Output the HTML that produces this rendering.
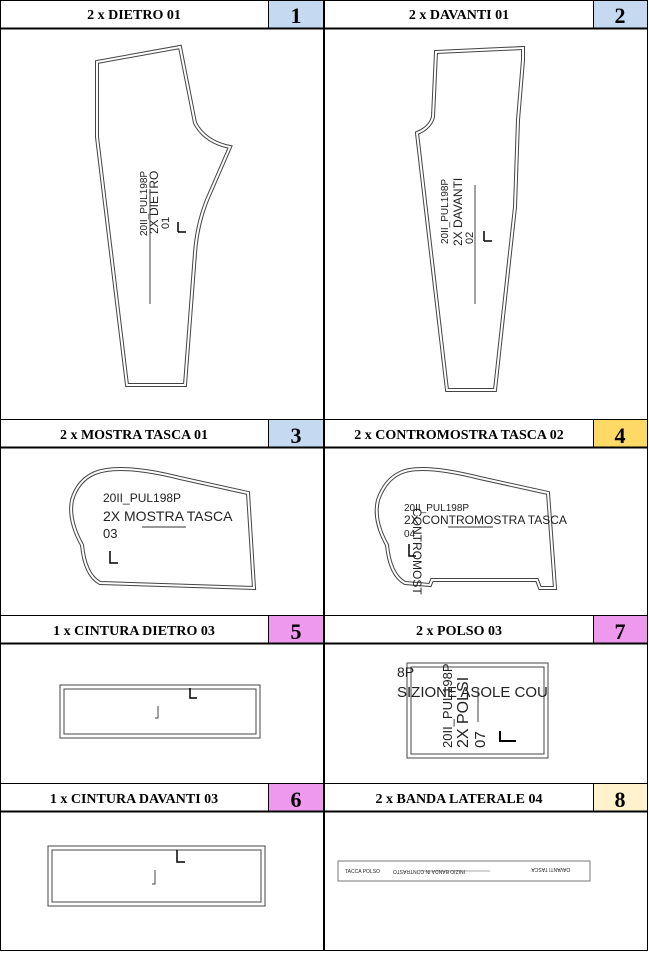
<!DOCTYPE html>
<html><head><meta charset="utf-8"><style>
html,body{margin:0;padding:0;background:#fff}
svg{display:block}
.h{font-family:"Liberation Serif",serif;font-weight:bold;font-size:14px;text-anchor:middle}
.n{font-family:"Liberation Serif",serif;font-weight:bold;font-size:22px;text-anchor:middle}
.t{font-family:"Liberation Sans",sans-serif;fill:#222}
.o{fill:none;stroke:#444;stroke-width:4}
.i{fill:none;stroke:#fff;stroke-width:2}
</style></head><body>
<svg width="649" height="953" viewBox="0 0 649 953">
<rect width="649" height="953" fill="#fff"/>
<g>
<rect x="269" y="1" width="54" height="27" fill="#c5d9f1"/>
<rect x="594" y="1" width="53" height="27" fill="#c5d9f1"/>
<rect x="269" y="420" width="54" height="27" fill="#c5d9f1"/>
<rect x="594" y="420" width="53" height="27" fill="#ffd966"/>
<rect x="269" y="616" width="54" height="27" fill="#ee99ee"/>
<rect x="594" y="616" width="53" height="27" fill="#ee99ee"/>
<rect x="269" y="784" width="54" height="27" fill="#ee99ee"/>
<rect x="594" y="784" width="53" height="27" fill="#fff2cc"/>
</g>
<g stroke="#000">
<rect x="0.5" y="0.5" width="647" height="950" fill="none" stroke-width="1"/>
<line x1="324" y1="0" x2="324" y2="951" stroke-width="2"/>
<line x1="0" y1="28.5" x2="648" y2="28.5" stroke-width="2"/>
<line x1="0" y1="419.5" x2="648" y2="419.5" stroke-width="1"/>
<line x1="0" y1="447.5" x2="648" y2="447.5" stroke-width="2"/>
<line x1="0" y1="615.5" x2="648" y2="615.5" stroke-width="1"/>
<line x1="0" y1="643.5" x2="648" y2="643.5" stroke-width="2"/>
<line x1="0" y1="783.5" x2="648" y2="783.5" stroke-width="1"/>
<line x1="0" y1="811.5" x2="648" y2="811.5" stroke-width="2"/>
<line x1="268.5" y1="0" x2="268.5" y2="28" stroke-width="1"/>
<line x1="593.5" y1="0" x2="593.5" y2="28" stroke-width="1"/>
<line x1="268.5" y1="419" x2="268.5" y2="447" stroke-width="1"/>
<line x1="593.5" y1="419" x2="593.5" y2="447" stroke-width="1"/>
<line x1="268.5" y1="615" x2="268.5" y2="643" stroke-width="1"/>
<line x1="593.5" y1="615" x2="593.5" y2="643" stroke-width="1"/>
<line x1="268.5" y1="783" x2="268.5" y2="811" stroke-width="1"/>
<line x1="593.5" y1="783" x2="593.5" y2="811" stroke-width="1"/>
</g>
<g>
<text class="h" x="134" y="19">2 x DIETRO 01</text>
<text class="n" x="296" y="23">1</text>
<text class="h" x="459" y="19">2 x DAVANTI 01</text>
<text class="n" x="620" y="23">2</text>
<text class="h" x="134" y="439">2 x MOSTRA TASCA 01</text>
<text class="n" x="296" y="443">3</text>
<text class="h" x="459" y="439">2 x CONTROMOSTRA TASCA 02</text>
<text class="n" x="620" y="443">4</text>
<text class="h" x="134" y="635">1 x CINTURA DIETRO 03</text>
<text class="n" x="296" y="639">5</text>
<text class="h" x="459" y="635">2 x POLSO 03</text>
<text class="n" x="620" y="639">7</text>
<text class="h" x="134" y="803">1 x CINTURA DAVANTI 03</text>
<text class="n" x="296" y="807">6</text>
<text class="h" x="459" y="803">2 x BANDA LATERALE 04</text>
<text class="n" x="620" y="807">8</text>
</g>
<g>
<path d="M97,62 L180,47 L195,123 Q205,142 230,147 L207,200 Q197,225 195,253 L185,385 L127,385 L97,137 Z" class="o"/>
<path d="M97,62 L180,47 L195,123 Q205,142 230,147 L207,200 Q197,225 195,253 L185,385 L127,385 L97,137 Z" class="i"/>
<line x1="150" y1="190" x2="150" y2="304" stroke="#444"/>
<text class="t" font-size="10" transform="translate(147,236) rotate(-90)">20II_PUL198P</text>
<text class="t" font-size="12" transform="translate(158,234) rotate(-90)">2X DIETRO</text>
<text class="t" font-size="11" transform="translate(169,229) rotate(-90)">01</text>
<path d="M178,232 H186 M178,232 V222" stroke="#000" stroke-width="1.5" fill="none"/>
</g>
<g>
<path d="M436,52 L523,48 L523,60 L518,120 L515,207 L495,390 L447,390 L417,133 Q430,128 433,117 Z" class="o"/>
<path d="M436,52 L523,48 L523,60 L518,120 L515,207 L495,390 L447,390 L417,133 Q430,128 433,117 Z" class="i"/>
<line x1="475" y1="185" x2="475" y2="304" stroke="#444"/>
<text class="t" font-size="10" transform="translate(448,244) rotate(-90)">20II_PUL198P</text>
<text class="t" font-size="12" transform="translate(462,246) rotate(-90)">2X DAVANTI</text>
<text class="t" font-size="11" transform="translate(473,244) rotate(-90)">02</text>
<path d="M484,241 H492 M484,241 V231" stroke="#000" stroke-width="1.5" fill="none"/>
</g>
<g>
<path d="M95,473 Q120,463 180,478 L248,493 L254,588 L100,583 Q85,575 82,545 Q68,520 72,500 Q78,480 95,473 Z" class="o"/>
<path d="M95,473 Q120,463 180,478 L248,493 L254,588 L100,583 Q85,575 82,545 Q68,520 72,500 Q78,480 95,473 Z" class="i"/>
<text class="t" font-size="12" x="103" y="502">20II_PUL198P</text>
<text class="t" font-size="14" x="103" y="521">2X MOSTRA TASCA</text>
<text class="t" font-size="13" x="103" y="538">03</text>
<line x1="142" y1="527" x2="186" y2="527" stroke="#333"/>
<path d="M110,551 V563 H118" stroke="#000" stroke-width="1.5" fill="none"/>
</g>
<g>
<path d="M400,473 Q420,463 480,478 L548,493 L555,588 L540,588 L537,580 L432,580 L430,585 L405,583 Q390,575 387,545 Q373,520 378,500 Q385,480 400,473 Z" class="o"/>
<path d="M400,473 Q420,463 480,478 L548,493 L555,588 L540,588 L537,580 L432,580 L430,585 L405,583 Q390,575 387,545 Q373,520 378,500 Q385,480 400,473 Z" class="i"/>
<text class="t" font-size="10" x="404" y="511">20II_PUL198P</text>
<text class="t" font-size="12" x="404" y="524">2X CONTROMOSTRA TASCA</text>
<text class="t" font-size="10" x="404" y="537">04</text>
<line x1="448" y1="527" x2="493" y2="527" stroke="#333"/>
<text class="t" font-size="12" transform="translate(413,508) rotate(90)">CONTROMOST</text>
<path d="M409,544 V556 H416" stroke="#000" stroke-width="1.5" fill="none"/>
</g>
<g>
<rect x="60" y="685" width="200" height="53" fill="none" stroke="#444"/>
<rect x="64" y="689" width="192" height="45" fill="none" stroke="#444"/>
<path d="M190,688 V698 H197" stroke="#000" stroke-width="1.5" fill="none"/>
<path d="M158,706 V718 H155" stroke="#444" fill="none"/>
</g>
<g>
<rect x="407" y="663" width="141" height="95" fill="none" stroke="#444"/>
<rect x="411" y="667" width="133" height="87" fill="none" stroke="#444"/>
<line x1="478" y1="688" x2="478" y2="722" stroke="#444"/>
<text class="t" font-size="14" x="397" y="677">8P</text>
<text class="t" font-size="15" x="397" y="697">SIZIONE ASOLE COU</text>
<text class="t" font-size="13" transform="translate(452,748) rotate(-90)">20II_PUL198P</text>
<text class="t" font-size="16" transform="translate(468,748) rotate(-90)">2X POLSI</text>
<text class="t" font-size="15" transform="translate(485,748) rotate(-90)">07</text>
<path d="M500,731 V741 H516" stroke="#000" stroke-width="2" fill="none"/>
</g>
<g>
<rect x="48" y="846" width="217" height="60" fill="none" stroke="#444"/>
<rect x="52" y="850" width="209" height="52" fill="none" stroke="#444"/>
<path d="M177,850 V862 H185" stroke="#000" stroke-width="1.5" fill="none"/>
<path d="M155,870 V884 H152" stroke="#444" fill="none"/>
</g>
<g>
<rect x="338" y="861" width="252" height="20" fill="none" stroke="#777"/>
<text class="t" font-size="5" x="345" y="873">TACCA POLSO</text>
<text class="t" font-size="5" transform="translate(465,870) rotate(180)">INIZIO BANDA IN CONTRASTO</text>
<text class="t" font-size="5" transform="translate(570,868) rotate(180)">DAVANTI TASCA</text>
<line x1="420" y1="871" x2="490" y2="871" stroke="#555" stroke-width="0.6"/>
</g>
</svg>
</body></html>
